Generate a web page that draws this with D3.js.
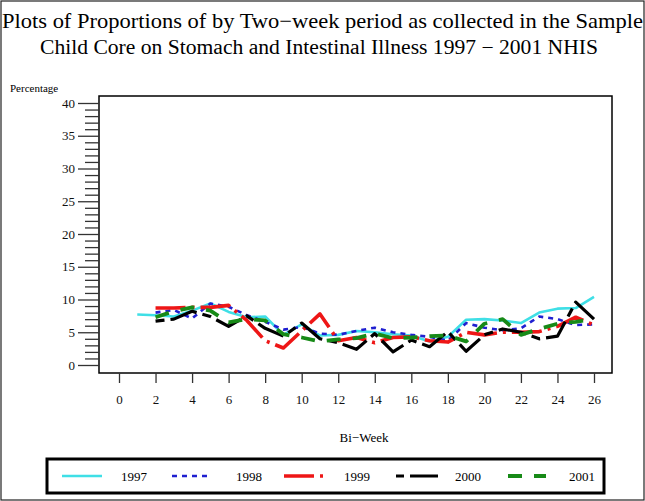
<!DOCTYPE html>
<html><head><meta charset="utf-8">
<script src="https://cdn.jsdelivr.net/npm/d3@7"></script>
<style>body{margin:0;background:#fff}svg{display:block}</style>
</head><body>
<script>
const years = ["1997","1998","1999","2000","2001"];
const biweeks = d3.range(1,27);
const s1997 = [7.7,7.6,7.4,8.3,9.4,8.1,7.3,7.4,4.6,6.2,4.5,4.6,5.2,5.0,4.7,4.5,3.6,4.3,6.9,7.0,6.8,6.4,8.0,8.6,8.7,10.4];
const s1998 = [null,8.0,8.4,7.1,9.4,8.9,7.6,6.6,5.4,5.8,4.8,4.6,5.2,5.7,5.0,4.6,4.3,3.7,6.4,5.7,5.3,5.6,7.4,7.0,6.1,6.2];
const s1999 = [null,8.7,8.7,8.8,8.8,9.1,6.8,3.7,2.6,5.2,7.8,3.7,4.2,3.4,4.2,4.3,3.7,3.5,5.0,4.6,5.0,5.0,5.1,5.9,7.3,6.1];
const s2000 = [null,6.7,7.0,8.2,7.4,5.9,7.5,5.6,4.4,6.4,4.0,3.4,2.4,4.8,2.0,3.8,2.8,5.1,2.1,4.6,5.5,5.0,4.0,4.4,9.6,7.0];
const s2001 = [null,7.3,8.2,8.8,8.3,6.5,7.0,6.8,4.7,4.2,3.6,3.9,4.1,4.8,4.1,4.2,4.4,4.5,3.6,6.3,7.0,4.6,5.5,6.3,6.6,7.0];
const seriesValues = [s1997,s1998,s1999,s2000,s2001];
const xTicks = d3.range(0,27,2);
const yTicks = d3.range(0,41,5);
const titleLines = ["Plots of Proportions of by Two\u2212week period as collected in the Sample",
                    "Child Core on Stomach and Intestinal Illness 1997  \u2212  2001 NHIS"];

const styles = [
  {color:"#3fdfe6", width:2.6, dash:null},
  {color:"#1f1fd0", width:2.6, dash:"5,5"},
  {color:"#ee1616", width:3.6, dash:"30,6,3,6"},
  {color:"#000000", width:3.2, dash:"9,6,28,6"},
  {color:"#178a17", width:3.8, dash:"14,12"}
];

const W=645,H=501;
const svg=d3.select("body").append("svg").attr("width",W).attr("height",H);
const font="'Liberation Serif', 'DejaVu Serif', serif";
svg.append("rect").attr("x",1).attr("y",1).attr("width",W-2).attr("height",H-2)
  .attr("fill","none").attr("stroke","#222").attr("stroke-width",1.2);

svg.append("text").attr("x",2).attr("y",28).attr("font-family",font).attr("font-size",21)
  .attr("textLength",641).attr("lengthAdjust","spacingAndGlyphs").text(titleLines[0]);
svg.append("text").attr("x",40).attr("y",54).attr("font-family",font).attr("font-size",20)
  .attr("textLength",558).attr("lengthAdjust","spacingAndGlyphs").text(titleLines[1]);

const x=d3.scaleLinear().domain([0,26]).range([119,594]);
const y=d3.scaleLinear().domain([0,40]).range([365,103]);
const frame={l:99,t:96,r:612,b:373};

svg.append("rect").attr("x",frame.l).attr("y",frame.t).attr("width",frame.r-frame.l).attr("height",frame.b-frame.t)
  .attr("fill","none").attr("stroke","#000").attr("stroke-width",1.5);

// y axis minor ticks
const yMinor=d3.axisLeft(y).tickValues(d3.range(0,41,1).filter(v=>v%5)).tickSize(14).tickFormat("");
svg.append("g").attr("transform",`translate(${frame.l},0)`).call(yMinor)
  .call(g=>g.select(".domain").remove()).selectAll("line").attr("stroke","#333").attr("stroke-width",1.3);
const yMajor=d3.axisLeft(y).tickValues(yTicks).tickSize(21).tickPadding(3);
const gy=svg.append("g").attr("transform",`translate(${frame.l},0)`).call(yMajor);
gy.select(".domain").remove();
gy.selectAll("line").attr("stroke","#333").attr("stroke-width",1.3);
gy.selectAll("text").attr("font-family",font).attr("font-size",13).attr("fill","#111");

const xAx=d3.axisBottom(x).tickValues(xTicks).tickSize(10).tickPadding(12);
const gx=svg.append("g").attr("transform",`translate(0,${frame.b})`).call(xAx);
gx.select(".domain").remove();
gx.selectAll("line").attr("stroke","#333").attr("stroke-width",1.3);
gx.selectAll("text").attr("font-family",font).attr("font-size",13).attr("fill","#111");

svg.append("text").attr("x",10).attr("y",92).attr("font-family",font).attr("font-size",11).text("Percentage");
svg.append("text").attr("x",364).attr("y",442).attr("text-anchor","middle").attr("font-family",font).attr("font-size",13).text("Bi\u2212Week");

const line=d3.line().defined(d=>d[1]!=null).x(d=>x(d[0])).y(d=>y(d[1]));
seriesValues.forEach((vals,i)=>{
  const pts=biweeks.map((b,j)=>[b,vals[j]]);
  const st=styles[i];
  const p=svg.append("path").datum(pts).attr("d",line).attr("fill","none")
    .attr("stroke",st.color).attr("stroke-width",st.width).attr("stroke-linejoin","round");
  if(st.dash) p.attr("stroke-dasharray",st.dash);
});

// legend
svg.append("rect").attr("x",47).attr("y",459).attr("width",557).attr("height",34)
  .attr("fill","none").attr("stroke","#000").attr("stroke-width",3);
const legX=[[62,102,121],[172,212,236],[284,328,344],[396,438,455],[508,546,569]];
years.forEach((yr,i)=>{
  const st=styles[i];
  const l=svg.append("line").attr("x1",legX[i][0]).attr("x2",legX[i][1]).attr("y1",476).attr("y2",476)
    .attr("stroke",st.color).attr("stroke-width",st.width);
  if(st.dash) l.attr("stroke-dasharray",i===3?"8,6,28,6":st.dash);
  svg.append("text").attr("x",legX[i][2]).attr("y",481).attr("font-family",font).attr("font-size",13).text(yr);
});
</script>
</body></html>
